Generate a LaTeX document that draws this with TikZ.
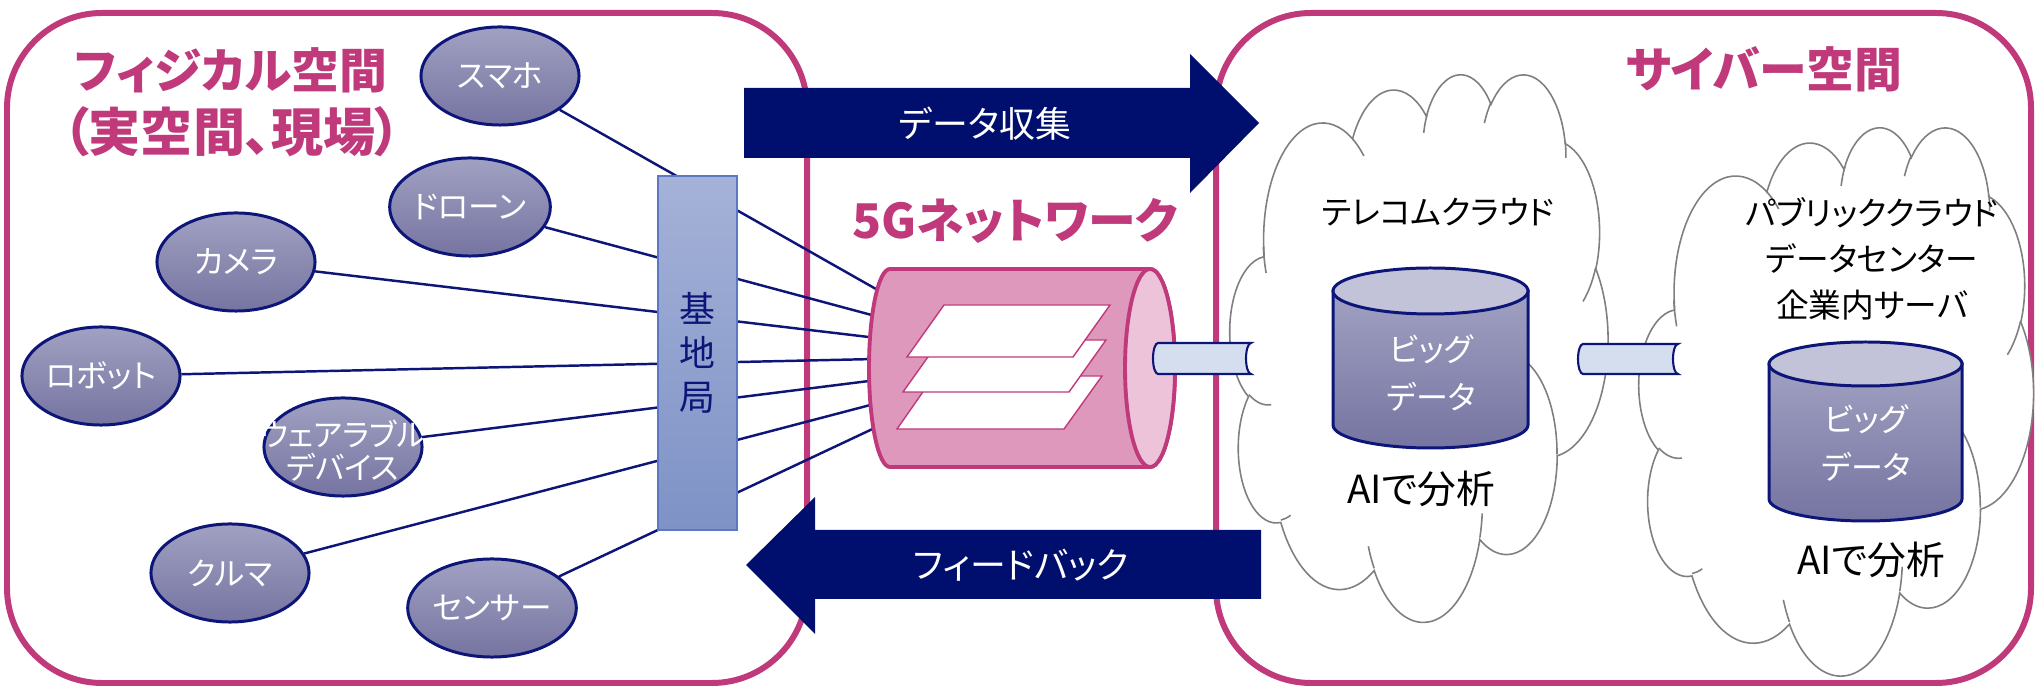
\documentclass[tikz,border=0pt]{standalone}
\usepackage{fontspec}
\setmainfont[RawFeature={+palt}]{Noto Sans CJK JP}
\usepackage{tikz}
\usetikzlibrary{shapes.geometric}
\definecolor{kpink}{HTML}{C0397B}
\definecolor{knavy}{HTML}{000F6E}
\definecolor{kline}{HTML}{0D1678}
\definecolor{kdevtop}{HTML}{A0A1C2}
\definecolor{kdevbot}{HTML}{7674A1}
\definecolor{kbstop}{HTML}{A5B2D8}
\definecolor{kbsbot}{HTML}{7E92C6}
\definecolor{kbsline}{HTML}{5B79C2}
\definecolor{kbody}{HTML}{DE98BC}
\definecolor{kface}{HTML}{EDC3DA}
\definecolor{ktube}{HTML}{D5DEEF}
\definecolor{kdbtop}{HTML}{C2C3D8}
\definecolor{kcloud}{HTML}{7F7F7F}

% one puff of the cloud outline (view angles turned into parametric ones)
\newcommand\cloudarc[4]{arc[start angle={atan2(#1*sin(#3),#2*cos(#3))},
  delta angle={mod(atan2(#1*sin(#3+#4),#2*cos(#3+#4))-atan2(#1*sin(#3),#2*cos(#3))+720,360)},
  x radius=#1, y radius=#2]}

\tikzset{
  area/.style={draw=kpink, line width=1.7pt, rounded corners=0.95cm},
  title/.style={text=kpink, font=\fontsize{13.6}{17.6}\selectfont\bfseries, align=center},
  device/.style={ellipse, draw=kline, line width=0.85pt, top color=kdevtop, bottom color=kdevbot,
    minimum width=1.58cm, minimum height=0.98cm, inner sep=0pt, text=white,
    font=\fontsize{9}{9.4}\selectfont},
  devlabel/.style={text=white, font=\fontsize{8.8}{9.4}\selectfont, align=center, inner sep=0pt},
  link/.style={kline, line width=0.7pt},
  arrowlabel/.style={text=white, font=\fontsize{10.2}{12}\selectfont},
  cloudline/.style={draw=kcloud, line width=0.45pt},
  cloudlabel/.style={text=black, font=\fontsize{9.3}{13.1}\selectfont, align=center},
  ailabel/.style={text=black, font=\fontsize{11}{13}\selectfont},
  dblabel/.style={text=white, font=\fontsize{9.1}{13.4}\selectfont, align=center},
  dbbody/.style={draw=kline, line width=0.85pt, top color=kdevtop, bottom color=kdevbot},
  tube/.style={fill=ktube, draw=kline, line width=0.6pt},
}

\begin{document}
\begin{tikzpicture}[x=0.01cm, y=-0.01cm]
\useasboundingbox (0,0) rectangle (2037,686);

% the two spaces
\draw[area] (7,13) rectangle (807,683);
\draw[area] (1216,13) rectangle (2031,683);
\node[title] (physical) at (231,70) {フィジカル空間};
\node[title, font=\fontsize{14.8}{17.6}\selectfont\bfseries] (physicalsub) at (232,132) {（実空間、現場）};
\node[title] (cyber) at (1764,69) {サイバー空間};

% devices in the field
\node[device] (phone) at (500,76) {スマホ};
\node[device] (drone) at (470,207) {ドローン};
\node[device] (camera) at (236,262) {カメラ};
\node[device] (robot) at (101,376) {ロボット};
\node[device] (wearable) at (343,447) {};
\node[devlabel] (wearabletext) at (343,451) {ウェアラブル\\デバイス};
\node[device] (car) at (230,573) {クルマ};
\node[device] (sensor) at (492,608) {センサー};

% radio links into the 5G pipe
\coordinate (c1) at (883,293);
\coordinate (c2) at (879,317);
\coordinate (c3) at (877,338);
\coordinate (c4) at (876,359);
\coordinate (c5) at (877,380);
\coordinate (c6) at (878,403);
\coordinate (c7) at (881,425);
\draw[link] (phone) -- (c1);
\draw[link] (drone) -- (c2);
\draw[link] (camera) -- (c3);
\draw[link] (robot) -- (c4);
\draw[link] (wearable) -- (c5);
\draw[link] (car) -- (c6);
\draw[link] (sensor) -- (c7);

\node[draw=kbsline, line width=0.5pt, top color=kbstop, bottom color=kbsbot,
  minimum width=0.79cm, minimum height=3.54cm, text=kline,
  font=\fontsize{10.2}{12.5}\selectfont, align=center] (station) at (697.5,353) {基\\地\\局};

% 5G network pipe with its slices
\filldraw[fill=kbody, draw=kpink, line width=1.1pt] (890,269) -- (1150,269)
  arc[start angle=-90, end angle=90, x radius=25, y radius=99] -- (890,467)
  arc[start angle=90, end angle=270, x radius=21, y radius=99] -- cycle;
\filldraw[fill=kface, draw=kpink, line width=1.1pt] (1150,368) ellipse [x radius=25, y radius=99];
\filldraw[fill=white, draw=kpink, line width=0.4pt] (897,429) -- (934,376) -- (1102,376) -- (1064,429) -- cycle;
\filldraw[fill=white, draw=kpink, line width=0.4pt] (903,392) -- (940,340) -- (1106,340) -- (1069,392) -- cycle;
\filldraw[fill=white, draw=kpink, line width=0.4pt] (907,357) -- (944,305) -- (1110,305) -- (1073,357) -- cycle;
\node[title] (fiveg) at (1015,221) {5Gネットワーク};

% block arrows
\fill[knavy] (744,88) -- (1190,88) -- (1190,54) -- (1259,123) -- (1190,193) -- (1190,158) -- (744,158) -- cycle;
\node[arrowlabel] (collect) at (985,124) {データ収集};
\fill[knavy] (1261,530) -- (815,530) -- (815,497) -- (746,565) -- (815,634) -- (815,599) -- (1261,599) -- cycle;
\node[arrowlabel] (feedback) at (1021,565) {フィードバック};

% telecom cloud
\begin{scope}[shift={(1230,73)}]
\begin{scope}[x=0.00875cm, y=-0.012662cm]
\filldraw[cloudline, fill=white] (39,143.7) \cloudarc{67.53}{91.90}{-190.4875}{123.7805}
  \cloudarc{53.33}{72.67}{-144.1024}{89.9452} \cloudarc{43.65}{59.45}{-145.8079}{99.7230}
  \cloudarc{48.57}{65.95}{-130.9861}{117.2417} \cloudarc{53.33}{72.73}{-78.7089}{109.0269}
  \cloudarc{67.75}{92.20}{-46.2673}{130.2690} \cloudarc{57.85}{78.67}{0.6250}{114.0333}
  \cloudarc{67.52}{92.15}{22.4516}{115.1726} \cloudarc{77.20}{105.43}{66.2426}{75.7110}
  \cloudarc{43.60}{59.18}{-274.9421}{146.7356} \cloudarc{43.45}{59.45}{-246.8285}{152.5189} -- cycle;
\draw[cloudline] (46.93,261.77) \cloudarc{43.45}{59.45}{86.742}{26.4295}
  (69.28,348.99) \cloudarc{43.60}{59.18}{73.6105}{11.4475}
  (164.78,390.90) \cloudarc{67.52}{92.15}{137.6242}{14.0811}
  (288.27,347.51) \cloudarc{67.52}{92.15}{6.4533}{15.9984}
  (341.29,229.54) \cloudarc{57.85}{78.67}{-70.2924}{70.9174}
  (417.98,153.54) \cloudarc{53.33}{72.73}{30.3180}{27.7515}
  (383.24,54.26) \cloudarc{48.57}{65.95}{-13.7443}{14.8589}
  (290.78,39.52) \cloudarc{48.57}{65.95}{-149.1815}{18.1954}
  (221.41,47.20) \cloudarc{43.65}{59.45}{-163.4943}{19.0009}
  (140.00,51.92) \cloudarc{67.53}{91.90}{-66.7070}{12.3194}
  (41.27,157.89) \cloudarc{67.53}{91.90}{155.6472}{17.1061};
\end{scope}
\end{scope}
\node[cloudlabel] (telecom) at (1438,212) {テレコムクラウド};
\path[dbbody] (1333,291) -- (1333,425) arc[start angle=180, end angle=0, x radius=97.5, y radius=23] -- (1528,291) -- cycle;
\filldraw[fill=kdbtop, draw=kline, line width=0.85pt] (1430.5,291) ellipse [x radius=97.5, y radius=23];
\node[dblabel] (data1) at (1431,373) {ビッグ\\データ};
\node[ailabel] (ai1) at (1421,489) {AIで分析};

% public cloud
\begin{scope}[shift={(1639,126)}]
\begin{scope}[x=0.0091204cm, y=-0.0126852cm]
\filldraw[cloudline, fill=white] (39,143.7) \cloudarc{67.53}{91.90}{-190.4875}{123.7805}
  \cloudarc{53.33}{72.67}{-144.1024}{89.9452} \cloudarc{43.65}{59.45}{-145.8079}{99.7230}
  \cloudarc{48.57}{65.95}{-130.9861}{117.2417} \cloudarc{53.33}{72.73}{-78.7089}{109.0269}
  \cloudarc{67.75}{92.20}{-46.2673}{130.2690} \cloudarc{57.85}{78.67}{0.6250}{114.0333}
  \cloudarc{67.52}{92.15}{22.4516}{115.1726} \cloudarc{77.20}{105.43}{66.2426}{75.7110}
  \cloudarc{43.60}{59.18}{-274.9421}{146.7356} \cloudarc{43.45}{59.45}{-246.8285}{152.5189} -- cycle;
\draw[cloudline] (46.93,261.77) \cloudarc{43.45}{59.45}{86.742}{26.4295}
  (69.28,348.99) \cloudarc{43.60}{59.18}{73.6105}{11.4475}
  (164.78,390.90) \cloudarc{67.52}{92.15}{137.6242}{14.0811}
  (288.27,347.51) \cloudarc{67.52}{92.15}{6.4533}{15.9984}
  (341.29,229.54) \cloudarc{57.85}{78.67}{-70.2924}{70.9174}
  (417.98,153.54) \cloudarc{53.33}{72.73}{30.3180}{27.7515}
  (383.24,54.26) \cloudarc{48.57}{65.95}{-13.7443}{14.8589}
  (290.78,39.52) \cloudarc{48.57}{65.95}{-149.1815}{18.1954}
  (221.41,47.20) \cloudarc{43.65}{59.45}{-163.4943}{19.0009}
  (140.00,51.92) \cloudarc{67.53}{91.90}{-66.7070}{12.3194}
  (41.27,157.89) \cloudarc{67.53}{91.90}{155.6472}{17.1061};
\end{scope}
\end{scope}
\node[cloudlabel] (public) at (1872,259) {パブリッククラウド\\データセンター\\企業内サーバ};
\path[dbbody] (1769,364) -- (1769,499) arc[start angle=180, end angle=0, x radius=96.5, y radius=22] -- (1962,364) -- cycle;
\filldraw[fill=kdbtop, draw=kline, line width=0.85pt] (1865.5,364) ellipse [x radius=96.5, y radius=22];
\node[dblabel] (data2) at (1866,443) {ビッグ\\データ};
\node[ailabel] (ai2) at (1871,560) {AIで分析};

% pipes between pipe and clouds
\filldraw[tube] (1251,343) -- (1158,343) arc[start angle=270, end angle=90, x radius=5, y radius=15.5]
  -- (1251,374) arc[start angle=90, end angle=270, x radius=5, y radius=15.5] -- cycle;
\filldraw[tube] (1678,344) -- (1583,344) arc[start angle=270, end angle=90, x radius=5, y radius=15]
  -- (1678,374) arc[start angle=90, end angle=270, x radius=5, y radius=15] -- cycle;
\end{tikzpicture}
\end{document}
